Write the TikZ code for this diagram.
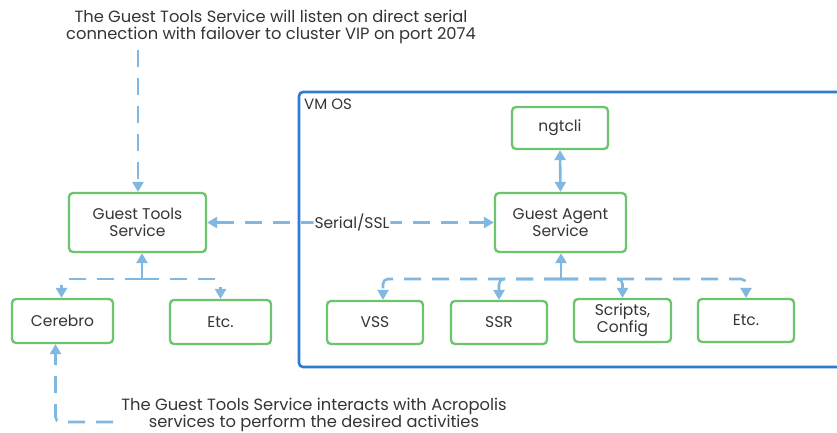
\documentclass[tikz,border=0pt]{standalone}
\usepackage{fontspec}
\setmainfont{Poppins}
\usetikzlibrary{arrows.meta}
\definecolor{boxgreen}{HTML}{6CC46C}
\definecolor{frameblue}{HTML}{2F7BD0}
\definecolor{linkblue}{HTML}{80B8E2}
\definecolor{ink}{HTML}{353535}
\tikzset{
  svc/.style={draw=boxgreen, line width=2.3pt, rounded corners=4pt, fill=white,
    text=ink, font=\fontsize{15.5}{17}\selectfont, align=center, inner sep=0pt},
  tip/.style={Triangle[length=10pt,width=11pt]},
  conn/.style={draw=linkblue, line width=2.6pt, dash pattern=on 17pt off 11pt,
    rounded corners=5pt, arrows={-Triangle[length=10pt,width=11pt]}},
  solidconn/.style={draw=linkblue, line width=2.6pt,
    arrows={Triangle[length=10pt,width=11pt]-Triangle[length=10pt,width=11pt]}},
  note/.style={text=ink, font=\fontsize{16.3}{17.5}\selectfont, align=center, inner sep=0pt},
}
\begin{document}
\begin{tikzpicture}[x=1pt,y=-1pt]
\useasboundingbox (0,0) rectangle (837,432);
\fill[white] (0,0) rectangle (837,432);
\begin{scope}
\clip (0,0) rectangle (837,432);
% VM OS frame (runs past the right edge)
\draw[frameblue, line width=2.6pt, rounded corners=4pt] (299,92) rectangle (860,367);
\end{scope}
\node[text=ink, font=\fontsize{15}{17}\selectfont, anchor=west, inner sep=0pt] (vmos) at (304,104) {VM OS};

% annotations
\node[note] (topnote) at (271,27) {The Guest Tools Service will listen on direct serial\\connection with failover to cluster VIP on port 2074};
\node[note, anchor=south] (botnote) at (314,432) {The Guest Tools Service interacts with Acropolis\\services to perform the desired activities};

% service boxes
\node[svc, minimum width=137pt, minimum height=59pt] (gts) at (137.5,222.5) {Guest Tools\\Service};
\node[svc, minimum width=101pt, minimum height=44pt] (cer) at (62.5,321) {Cerebro};
\node[svc, minimum width=101pt, minimum height=44pt] (etcl) at (220.5,322) {Etc.};
\node[svc, minimum width=96pt, minimum height=42pt] (ngt) at (560,128) {ngtcli};
\node[svc, minimum width=131pt, minimum height=59pt] (gas) at (560.5,222.5) {Guest Agent\\Service};
\node[svc, minimum width=96pt, minimum height=43pt] (vss) at (375,322.5) {VSS};
\node[svc, minimum width=96pt, minimum height=43pt] (ssr) at (499,322.5) {SSR};
\node[svc, minimum width=97pt, minimum height=43pt] (scr) at (622.5,320.5) {Scripts,\\Config};
\node[svc, minimum width=96pt, minimum height=43pt] (etcr) at (746,320.5) {Etc.};

% connector anchor points
\coordinate (topend) at (138,50);
\coordinate (jl) at (142,279);
\coordinate (jr) at (561,279);
\coordinate (botend) at (113,422);

% left side
\draw[conn] (topend) -- (gts.north -| topend);
\draw[conn] (jl) -- (jl |- gts.south);
\draw[conn] (jl) -| ([xshift=-1pt]cer.north);
\draw[conn] (jl) -| (etcl.north);
\draw[conn] (botend) -| ([xshift=-7pt]cer.south);

% serial link between the two services
\draw[conn, arrows={Triangle[length=10pt,width=11pt]-Triangle[length=10pt,width=11pt]}]
  (gts.east) -- (gas.west)
  node[pos=0.505, fill=white, inner sep=1pt, text=ink, font=\fontsize{15.5}{17}\selectfont] (ssl) {Serial/SSL};

% inside the VM
\draw[solidconn] (ngt.south) -- (gas.north);
\draw[conn] (jr) -- (jr |- gas.south);
\draw[conn] (jr) -| ([xshift=8pt]vss.north);
\draw[conn] (jr) -| (ssr.north);
\draw[conn] (jr) -| (scr.north);
\draw[conn] (jr) -| (etcr.north);
\end{tikzpicture}
\end{document}
